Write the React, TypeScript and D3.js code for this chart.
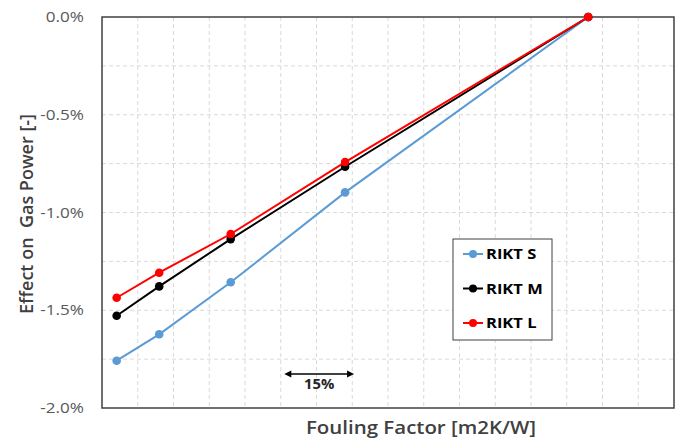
import React, {useRef, useEffect} from 'react'
import * as d3 from 'd3'

// x positions in grid units (no x tick labels on the chart)
const foulingX = [0.41, 1.6, 3.6, 6.8, 13.6]
const riktS = [-1.758, -1.623, -1.357, -0.897, 0]
const riktM = [-1.528, -1.378, -1.136, -0.766, 0]
const riktL = [-1.436, -1.308, -1.110, -0.742, 0]
const seriesNames = ['RIKT S', 'RIKT M', 'RIKT L']
const seriesColors = ['#5b9bd5', '#000000', '#ff0000']
const yTicks = [0, -0.5, -1.0, -1.5, -2.0]

// the source picture is stretched sideways a bit, so horizontal text is too
const stretch = 1.18

export default function App() {
	const ref = useRef<SVGSVGElement>(null)

	const layout = {width: 683, height: 441, left: 102, right: 674, top: 17, bottom: 408}

	useEffect(() => {
		const svg = d3.select(ref.current)
		svg.selectAll('*').remove()

		const x = d3.scaleLinear().domain([0, 16]).range([layout.left, layout.right])
		const y = d3.scaleLinear().domain([-2, 0]).range([layout.bottom, layout.top])

		const label = (g, tx, ty, txt, size, weight, fill, anchor, sx = stretch) =>
			g.append('text')
				.attr('transform', `translate(${tx},${ty}) scale(${sx},1)`)
				.attr('text-anchor', anchor)
				.attr('font-size', size).attr('font-weight', weight)
				.attr('fill', fill)
				.text(txt)

		// grid
		const grid = svg.append('g')
		grid.selectAll('.vgrid')
			.data(d3.range(1, 16))
			.join('line')
			.attr('x1', d => x(d)).attr('x2', d => x(d))
			.attr('y1', layout.top).attr('y2', layout.bottom)
			.attr('stroke', '#d9d9d9').attr('stroke-dasharray', '4,3')
		grid.selectAll('.hgrid')
			.data(d3.range(-1.75, 0, 0.25))
			.join('line')
			.attr('x1', layout.left).attr('x2', layout.right)
			.attr('y1', d => y(d)).attr('y2', d => y(d))
			.attr('stroke', '#d9d9d9').attr('stroke-dasharray', '4,3')

		// frame
		svg.append('rect')
			.attr('x', layout.left).attr('y', layout.top)
			.attr('width', layout.right - layout.left).attr('height', layout.bottom - layout.top)
			.attr('fill', 'none').attr('stroke', '#404040').attr('stroke-width', 1.5)

		// y ticks (plain hyphen as minus, like the original)
		const tg = svg.append('g')
		yTicks.forEach(d => label(tg, 84, y(d) + 5, d3.format('.1%')(d / 100).replace('\u2212', '-'), 14.5, 400, '#595959', 'end'))

		const line = d3.line<[number, number]>().x(d => x(d[0])).y(d => y(d[1]))
		const allSeries = [riktS, riktM, riktL]

		allSeries.forEach((vals, i) => {
			const pts = foulingX.map((v, j) => [v, vals[j]] as [number, number])
			svg.append('path')
				.datum(pts)
				.attr('d', line)
				.attr('fill', 'none')
				.attr('stroke', seriesColors[i])
				.attr('stroke-width', 2)
			svg.append('g')
				.selectAll('circle')
				.data(pts)
				.join('circle')
				.attr('cx', d => x(d[0])).attr('cy', d => y(d[1]))
				.attr('r', 4.3)
				.attr('fill', seriesColors[i])
		})

		// 15% arrow
		const arrow = svg.append('g')
		const ax1 = x(5.1), ax2 = x(7.05), ay = 374
		arrow.append('line')
			.attr('x1', ax1 + 4).attr('x2', ax2 - 4)
			.attr('y1', ay).attr('y2', ay)
			.attr('stroke', '#000').attr('stroke-width', 1.5)
		arrow.append('path')
			.attr('d', `M${ax1},${ay} L${ax1 + 7},${ay - 3.5} L${ax1 + 7},${ay + 3.5} Z`)
			.attr('fill', '#000')
		arrow.append('path')
			.attr('d', `M${ax2},${ay} L${ax2 - 7},${ay - 3.5} L${ax2 - 7},${ay + 3.5} Z`)
			.attr('fill', '#000')
		label(arrow, (ax1 + ax2) / 2, 389, '15%', 13.5, 700, '#262626', 'middle', 1.1)

		// legend
		const lg = svg.append('g')
		lg.append('rect')
			.attr('x', 453).attr('y', 239).attr('width', 99).attr('height', 101)
			.attr('fill', '#fff').attr('stroke', '#404040').attr('stroke-width', 1)
		seriesNames.forEach((name, i) => {
			const ly = 254 + i * 34.5
			lg.append('line')
				.attr('x1', 463).attr('x2', 483).attr('y1', ly).attr('y2', ly)
				.attr('stroke', seriesColors[i]).attr('stroke-width', 2)
			lg.append('circle').attr('cx', 473).attr('cy', ly).attr('r', 4).attr('fill', seriesColors[i])
			label(lg, 486, ly + 5, name, 14, 700, '#000', 'start')
		})

		// axis titles
		svg.append('text')
			.attr('transform', `translate(33, 214) rotate(-90)`)
			.attr('text-anchor', 'middle')
			.attr('font-size', 18).attr('font-weight', 600)
			.attr('fill', '#404040')
			.style('white-space', 'pre')
			.text('Effect on  Gas Power [-]')
		label(svg, 421, 434, 'Fouling Factor [m2K/W]', 17.5, 600, '#404040', 'middle', 1.17)
	}, [])

	return (
		<svg ref={ref} width={layout.width} height={layout.height}
			style={{position: 'absolute', left: 0, top: 0, fontFamily: '"Open Sans", sans-serif', background: '#fff'}} />
	)
}
